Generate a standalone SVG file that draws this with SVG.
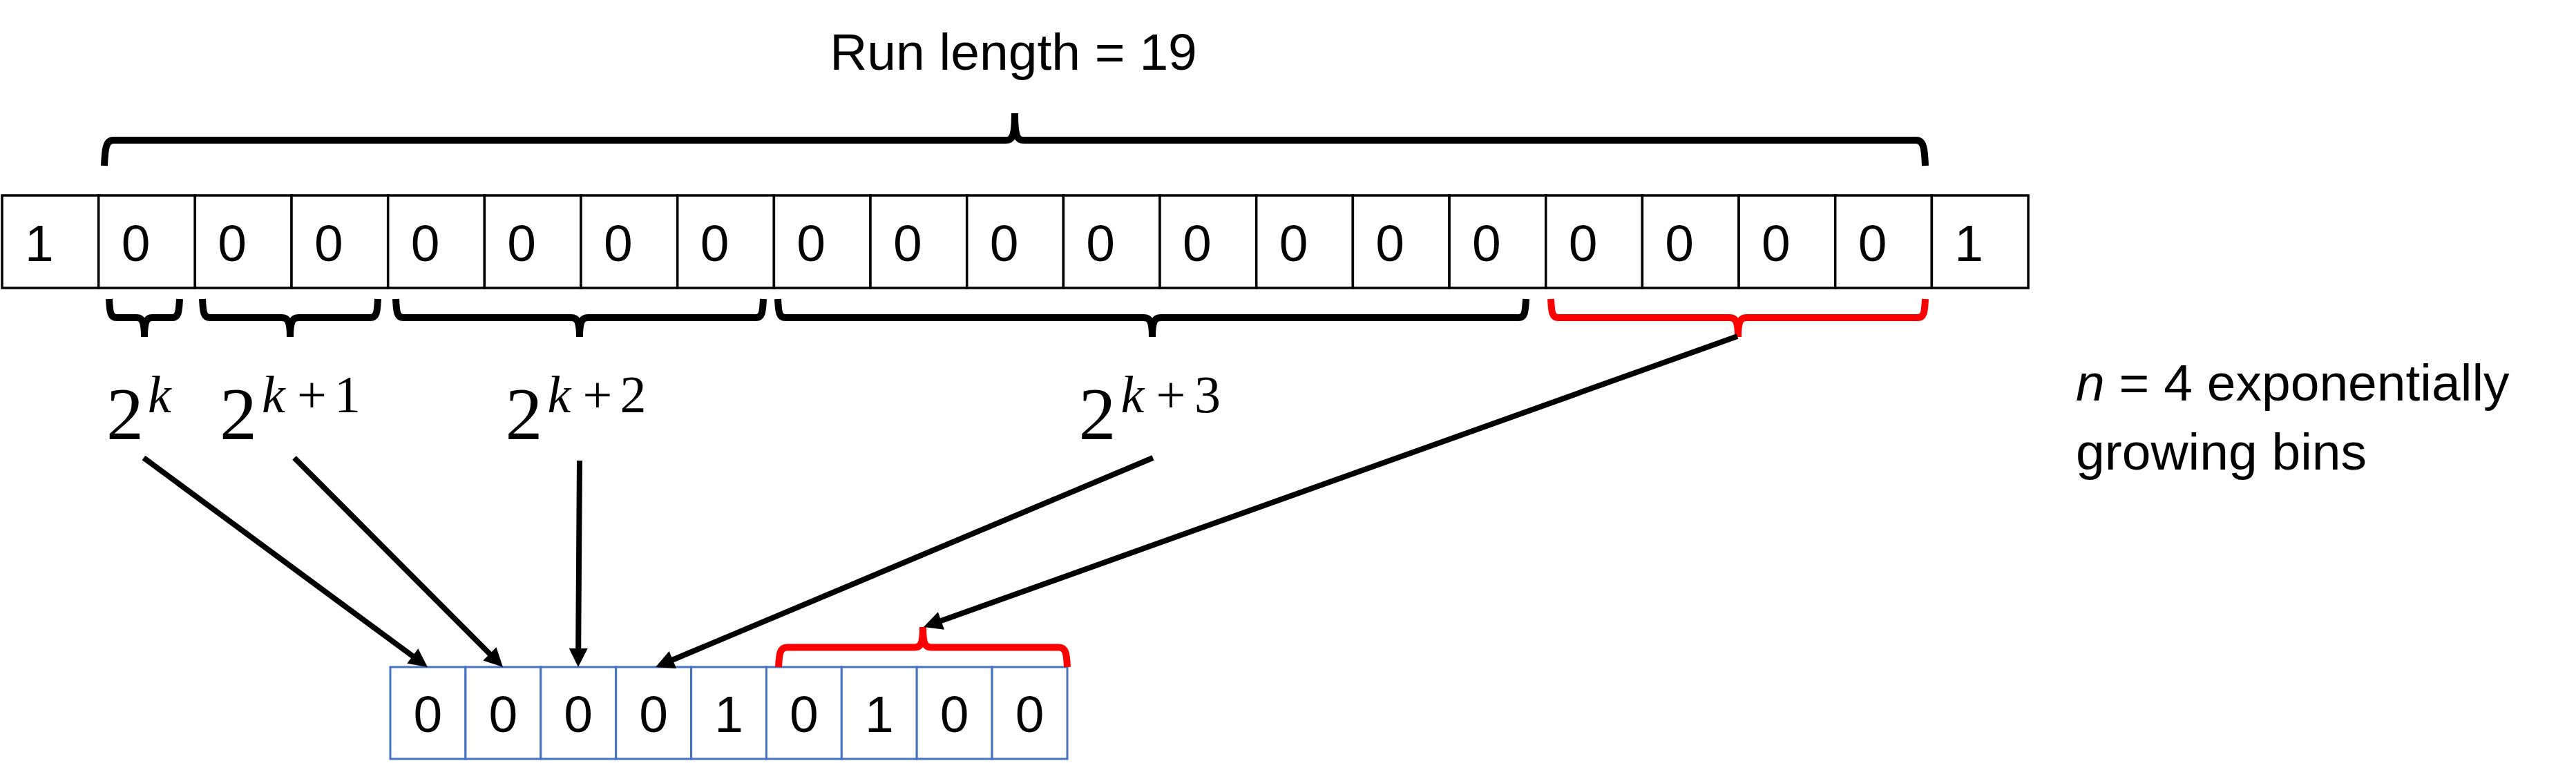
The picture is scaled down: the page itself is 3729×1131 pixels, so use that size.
<svg xmlns="http://www.w3.org/2000/svg" width="3729" height="1131" viewBox="0 0 3729 1131">
<style>
.tc rect{fill:#fff;stroke:#000;stroke-width:3.5}
.bc rect{fill:#fff;stroke:#4472C4;stroke-width:3}
.dig{font-family:"Liberation Sans",Arial,sans-serif;font-size:75px;fill:#000;text-anchor:middle}
.lbl{font-family:"Liberation Sans",Arial,sans-serif;font-size:75px;fill:#000}
.math{font-family:"Liberation Serif","Times New Roman",serif;fill:#000}
.big{font-size:108px}
.sup{font-size:76px}
.it{font-style:italic}
.brace{fill:none;stroke:#000;stroke-width:10;stroke-linecap:butt;stroke-linejoin:round}
.red{stroke:#FF0000}
.arrow{fill:none;stroke:#000;stroke-width:8;marker-end:url(#ah)}
</style>
<defs>
<marker id="ah" markerUnits="userSpaceOnUse" markerWidth="27" markerHeight="27" refX="15" refY="13.5" orient="auto" overflow="visible">
<path d="M0,0 L27,13.5 L0,27 z" fill="#000"/>
</marker>
</defs>
<rect width="3729" height="1131" fill="#fff"/>

<g id="title"><text class="lbl" x="1467" y="101" text-anchor="middle" font-size="73">Run length = 19</text></g>

<g id="top-row">
<g id="t1" class="tc"><rect x="3" y="283" width="139.7" height="134"/><text class="dig" x="56.8" y="378">1</text></g>
<g id="t2" class="tc"><rect x="142.7" y="283" width="139.7" height="134"/><text class="dig" x="196.5" y="378">0</text></g>
<g id="t3" class="tc"><rect x="282.3" y="283" width="139.7" height="134"/><text class="dig" x="336.1" y="378">0</text></g>
<g id="t4" class="tc"><rect x="422" y="283" width="139.7" height="134"/><text class="dig" x="475.8" y="378">0</text></g>
<g id="t5" class="tc"><rect x="561.7" y="283" width="139.7" height="134"/><text class="dig" x="615.5" y="378">0</text></g>
<g id="t6" class="tc"><rect x="701.4" y="283" width="139.7" height="134"/><text class="dig" x="755.2" y="378">0</text></g>
<g id="t7" class="tc"><rect x="841" y="283" width="139.7" height="134"/><text class="dig" x="894.8" y="378">0</text></g>
<g id="t8" class="tc"><rect x="980.7" y="283" width="139.7" height="134"/><text class="dig" x="1034.5" y="378">0</text></g>
<g id="t9" class="tc"><rect x="1120.4" y="283" width="139.7" height="134"/><text class="dig" x="1174.2" y="378">0</text></g>
<g id="t10" class="tc"><rect x="1260" y="283" width="139.7" height="134"/><text class="dig" x="1313.8" y="378">0</text></g>
<g id="t11" class="tc"><rect x="1399.7" y="283" width="139.7" height="134"/><text class="dig" x="1453.5" y="378">0</text></g>
<g id="t12" class="tc"><rect x="1539.4" y="283" width="139.7" height="134"/><text class="dig" x="1593.2" y="378">0</text></g>
<g id="t13" class="tc"><rect x="1679" y="283" width="139.7" height="134"/><text class="dig" x="1732.8" y="378">0</text></g>
<g id="t14" class="tc"><rect x="1818.7" y="283" width="139.7" height="134"/><text class="dig" x="1872.5" y="378">0</text></g>
<g id="t15" class="tc"><rect x="1958.4" y="283" width="139.7" height="134"/><text class="dig" x="2012.2" y="378">0</text></g>
<g id="t16" class="tc"><rect x="2098.1" y="283" width="139.7" height="134"/><text class="dig" x="2151.9" y="378">0</text></g>
<g id="t17" class="tc"><rect x="2237.7" y="283" width="139.7" height="134"/><text class="dig" x="2291.5" y="378">0</text></g>
<g id="t18" class="tc"><rect x="2377.4" y="283" width="139.7" height="134"/><text class="dig" x="2431.2" y="378">0</text></g>
<g id="t19" class="tc"><rect x="2517.1" y="283" width="139.7" height="134"/><text class="dig" x="2570.9" y="378">0</text></g>
<g id="t20" class="tc"><rect x="2656.7" y="283" width="139.7" height="134"/><text class="dig" x="2710.5" y="378">0</text></g>
<g id="t21" class="tc"><rect x="2796.4" y="283" width="139.7" height="134"/><text class="dig" x="2850.2" y="378">1</text></g>
</g>

<g id="bottom-row">
<g id="b1" class="bc"><rect x="565" y="966" width="108.9" height="133"/><text class="dig" x="619.4" y="1060">0</text></g>
<g id="b2" class="bc"><rect x="673.9" y="966" width="108.9" height="133"/><text class="dig" x="728.3" y="1060">0</text></g>
<g id="b3" class="bc"><rect x="782.8" y="966" width="108.9" height="133"/><text class="dig" x="837.2" y="1060">0</text></g>
<g id="b4" class="bc"><rect x="891.7" y="966" width="108.9" height="133"/><text class="dig" x="946.1" y="1060">0</text></g>
<g id="b5" class="bc"><rect x="1000.6" y="966" width="108.9" height="133"/><text class="dig" x="1055" y="1060">1</text></g>
<g id="b6" class="bc"><rect x="1109.4" y="966" width="108.9" height="133"/><text class="dig" x="1163.9" y="1060">0</text></g>
<g id="b7" class="bc"><rect x="1218.3" y="966" width="108.9" height="133"/><text class="dig" x="1272.8" y="1060">1</text></g>
<g id="b8" class="bc"><rect x="1327.2" y="966" width="108.9" height="133"/><text class="dig" x="1381.7" y="1060">0</text></g>
<g id="b9" class="bc"><rect x="1436.1" y="966" width="108.9" height="133"/><text class="dig" x="1490.6" y="1060">0</text></g>
</g>

<g id="braces">
<path id="brace-run" class="brace" stroke-width="9" d="M151,240 C152,220 152,203 164,203 L1456,203 C1465,203 1469,199 1469,164 M1469,164 C1469,199 1473,203 1482,203 L2774,203 C2786,203 2786,220 2787,240"/>
<path id="brace-b1" class="brace" d="M158,433 C159,450 159,460 169,460 L198,460 C205,460 209,464 209,488 M209,488 C209,464 213,460 220,460 L249,460 C259,460 259,450 260,433"/>
<path id="brace-b2" class="brace" d="M293,433 C294,450 294,460 304,460 L408,460 C416,460 420,464 420,488 M420,488 C420,464 424,460 432,460 L536,460 C546,460 546,450 547,433"/>
<path id="brace-b3" class="brace" d="M573,433 C574,450 574,460 584,460 L827,460 C835,460 839,464 839,488 M839,488 C839,464 843,460 851,460 L1094,460 C1104,460 1104,450 1105,433"/>
<path id="brace-b4" class="brace" d="M1126,433 C1127,450 1127,460 1137,460 L1656,460 C1664,460 1668,464 1668,488 M1668,488 C1668,464 1672,460 1680,460 L2198,460 C2208,460 2208,450 2209,433"/>
<path id="brace-red-top" class="brace red" d="M2245,433 C2246,450 2246,460 2256,460 L2504,460 C2512,460 2516,464 2516,488 M2516,488 C2516,464 2520,460 2528,460 L2776,460 C2786,460 2786,450 2787,433"/>
<path id="brace-red-bottom" class="brace red" d="M1127,966 C1128,950 1128,937.5 1139,937.5 L1324,937.5 C1332,937.5 1336,934 1336,908 M1336,908 C1336,934 1340,937.5 1348,937.5 L1533,937.5 C1544,937.5 1544,950 1545,966"/>
</g>

<g id="labels">
<text id="lbl-k" class="math"><tspan class="big" x="154" y="636">2</tspan><tspan class="sup it" x="214" y="597">k</tspan></text>
<text id="lbl-k1" class="math"><tspan class="big" x="318" y="636">2</tspan><tspan class="sup it" x="379" y="597">k</tspan><tspan class="sup" x="430" y="597">+</tspan><tspan class="sup" x="484" y="597">1</tspan></text>
<text id="lbl-k2" class="math"><tspan class="big" x="731.5" y="636">2</tspan><tspan class="sup it" x="792.5" y="597">k</tspan><tspan class="sup" x="843.5" y="597">+</tspan><tspan class="sup" x="897.5" y="597">2</tspan></text>
<text id="lbl-k3" class="math"><tspan class="big" x="1561.5" y="636">2</tspan><tspan class="sup it" x="1622.5" y="597">k</tspan><tspan class="sup" x="1673.5" y="597">+</tspan><tspan class="sup" x="1729" y="597">3</tspan></text>
</g>

<g id="note">
<text class="lbl" x="3005" y="580"><tspan font-style="italic">n</tspan> = 4 exponentially</text>
<text class="lbl" x="3005" y="680">growing bins</text>
</g>

<g id="connectors">
<line class="arrow" x1="208" y1="663" x2="609.3" y2="958.9"/>
<line class="arrow" x1="426" y1="663" x2="719.5" y2="957.5"/>
<line class="arrow" x1="839" y1="667" x2="837.1" y2="954"/>
<line class="arrow" x1="1669" y1="663" x2="960.1" y2="961.3"/>
<line class="arrow" x1="2515" y1="487" x2="1348.3" y2="904"/>
</g>
</svg>
